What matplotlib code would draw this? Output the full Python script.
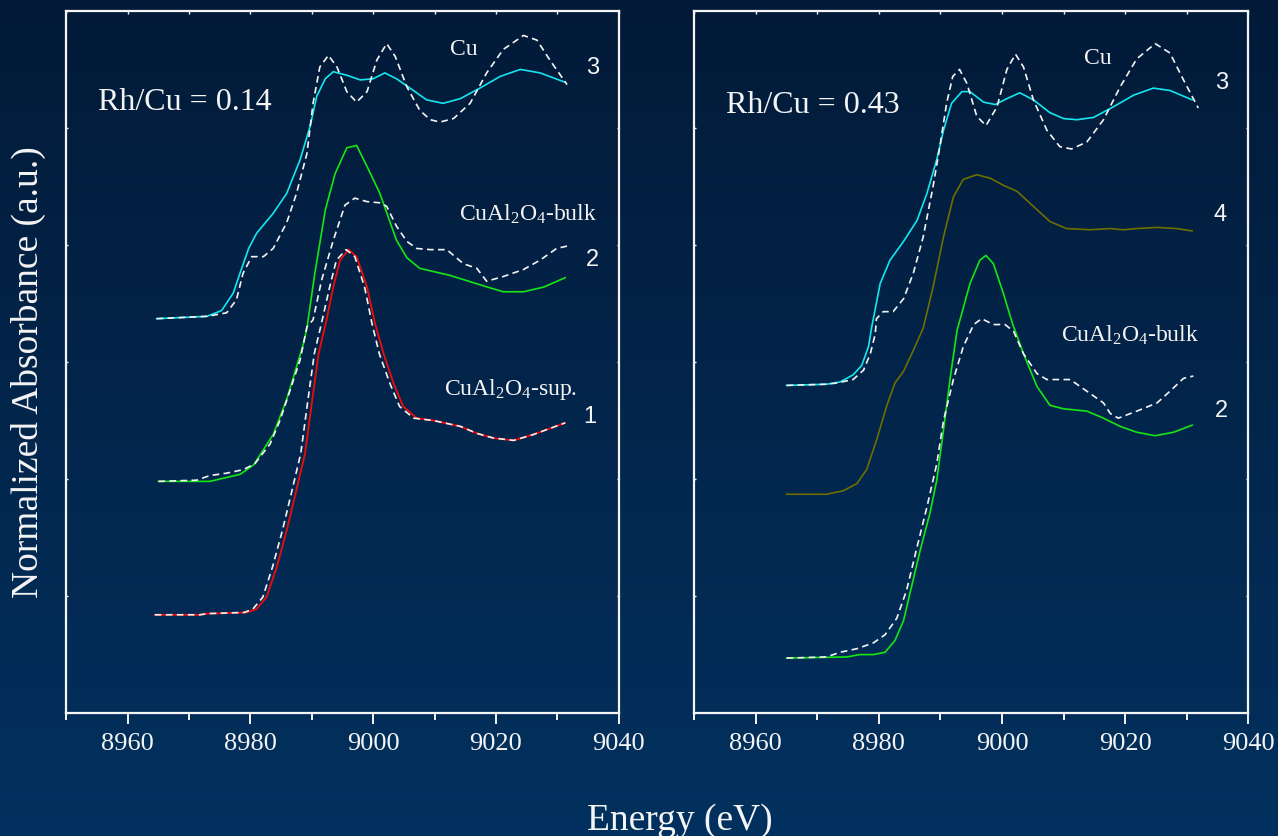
import numpy as np
import matplotlib
matplotlib.use("Agg")
import matplotlib.pyplot as plt
from matplotlib.ticker import MultipleLocator
from matplotlib.colors import LinearSegmentedColormap

plt.rcParams["font.family"] = ["Liberation Serif", "DejaVu Serif"]
plt.rcParams["mathtext.fontset"] = "custom"
plt.rcParams["mathtext.rm"] = "Liberation Serif"
plt.rcParams["mathtext.it"] = "Liberation Serif"
plt.rcParams["mathtext.default"] = "regular"

# ── Cu K-edge XANES, stacked (energy in eV, absorbance in a.u.) ───────────────

# Rh/Cu = 0.14 : sample 3 (cyan) vs Cu foil (dashed)
l3_e = [8964.7, 8972.9, 8975.3, 8977.2, 8978.3, 8979.7, 8981.0, 8983.7, 8985.9, 8988.1,
        8989.7, 8990.8, 8992.2, 8993.5, 8995.7, 8997.9, 9000.0, 9001.9, 9003.8, 9006.0,
        9008.7, 9011.4, 9014.2, 9017.4, 9020.7, 9024.0, 9027.2, 9031.3]
l3_y = [3.37, 3.39, 3.44, 3.59, 3.76, 3.97, 4.10, 4.27, 4.44, 4.73,
        5.01, 5.27, 5.42, 5.48, 5.45, 5.41, 5.42, 5.47, 5.42, 5.34,
        5.24, 5.21, 5.25, 5.34, 5.44, 5.50, 5.47, 5.39]
l_cu_e = [8964.7, 8972.9, 8976.1, 8977.7, 8978.8, 8980.2, 8982.1, 8983.7, 8985.9, 8987.5,
          8989.2, 8990.2, 8991.3, 8992.7, 8994.1, 8995.7, 8997.3, 8999.0, 9000.6, 9002.2,
          9003.6, 9005.5, 9007.6, 9009.3, 9010.9, 9013.1, 9015.8, 9018.5, 9021.2, 9024.5,
          9026.7, 9028.8, 9031.6]
l_cu_y = [3.37, 3.39, 3.42, 3.53, 3.76, 3.90, 3.90, 3.97, 4.19, 4.44,
          4.78, 5.21, 5.52, 5.62, 5.52, 5.31, 5.22, 5.31, 5.58, 5.72,
          5.61, 5.35, 5.15, 5.07, 5.05, 5.08, 5.21, 5.47, 5.67, 5.79,
          5.75, 5.58, 5.37]

# Rh/Cu = 0.14 : sample 2 (green) vs CuAl2O4 bulk (dashed)
l2_e = [8965.0, 8973.4, 8978.3, 8980.5, 8983.7, 8985.9, 8988.6, 8989.2, 8990.5, 8992.2,
        8993.8, 8995.7, 8997.3, 8999.0, 9001.1, 9003.8, 9005.5, 9007.6, 9012.5, 9017.4,
        9021.2, 9024.5, 9027.8, 9031.3]
l2_y = [1.98, 1.98, 2.04, 2.12, 2.38, 2.68, 3.15, 3.29, 3.76, 4.30,
        4.61, 4.83, 4.85, 4.67, 4.44, 4.04, 3.89, 3.80, 3.74, 3.66,
        3.60, 3.60, 3.64, 3.72]
l_bulk_e = [8965.0, 8971.2, 8973.4, 8976.1, 8978.8, 8980.7, 8983.2, 8984.8, 8986.4, 8988.1,
            8989.2, 8990.2, 8991.6, 8993.5, 8995.4, 8997.0, 8999.0, 9001.1, 9002.2, 9003.8,
            9005.5, 9007.1, 9009.3, 9012.0, 9014.7, 9016.9, 9018.5, 9021.2, 9024.5, 9027.2,
            9029.9, 9031.6]
l_bulk_y = [1.98, 1.99, 2.03, 2.05, 2.08, 2.13, 2.30, 2.50, 2.75, 3.02,
            3.30, 3.36, 3.70, 4.04, 4.34, 4.40, 4.37, 4.36, 4.33, 4.16,
            4.03, 3.97, 3.96, 3.96, 3.84, 3.80, 3.69, 3.73, 3.79, 3.87,
            3.97, 3.99]

# Rh/Cu = 0.14 : sample 1 (red) vs supported CuAl2O4 (dashed)
l1_e = [8964.4, 8971.8, 8972.9, 8979.4, 8981.0, 8982.6, 8984.3, 8985.9, 8987.5, 8988.9,
        8990.0, 8991.1, 8992.4, 8993.5, 8994.6, 8996.0, 8997.3, 8999.0, 9000.3, 9001.7,
        9003.3, 9004.9, 9007.1, 9009.8, 9014.2, 9016.9, 9019.6, 9022.9, 9026.1, 9031.3]
l1_y = [0.84, 0.84, 0.85, 0.86, 0.89, 0.99, 1.25, 1.56, 1.91, 2.22,
        2.65, 3.07, 3.36, 3.64, 3.87, 3.96, 3.90, 3.64, 3.33, 3.07,
        2.82, 2.62, 2.52, 2.50, 2.45, 2.39, 2.35, 2.33, 2.38, 2.48]
l_sup_e = [8964.4, 8971.8, 8972.9, 8979.0, 8980.4, 8982.0, 8983.6, 8985.2, 8986.8, 8988.2,
           8989.3, 8990.4, 8991.7, 8992.9, 8994.0, 8995.6, 8997.0, 8998.6, 8999.8, 9001.0,
           9002.7, 9004.3, 9006.6, 9009.8, 9014.2, 9016.9, 9019.6, 9022.9, 9026.1, 9031.3]
l_sup_y = l1_y

# Rh/Cu = 0.43 : sample 3 (cyan) vs Cu foil (dashed)
r3_e = [8965.0, 8971.5, 8973.7, 8975.8, 8977.2, 8978.3, 8978.8, 8980.2, 8981.8, 8984.0,
        8986.2, 8987.8, 8989.4, 8990.5, 8991.8, 8993.5, 8994.8, 8997.0, 8998.9, 9000.8,
        9002.9, 9005.1, 9007.8, 9010.0, 9012.2, 9014.9, 9018.1, 9021.4, 9024.6, 9027.3,
        9030.9]
r3_y = [2.80, 2.81, 2.83, 2.89, 2.97, 3.13, 3.29, 3.67, 3.87, 4.03,
        4.21, 4.44, 4.73, 4.98, 5.21, 5.31, 5.31, 5.22, 5.20, 5.25,
        5.30, 5.24, 5.13, 5.08, 5.07, 5.09, 5.18, 5.28, 5.34, 5.32,
        5.24]
r_cu_e = [8965.0, 8971.5, 8973.1, 8975.8, 8977.5, 8978.6, 8979.4, 8979.6, 8980.7, 8982.3,
          8984.0, 8985.6, 8987.2, 8988.8, 8989.9, 8991.0, 8992.0, 8993.1, 8994.3, 8995.9,
          8997.4, 8999.2, 9000.8, 9002.2, 9003.5, 9005.1, 9007.3, 9009.4, 9011.3, 9013.8,
          9016.5, 9019.2, 9021.9, 9024.9, 9027.3, 9029.5, 9031.9]
r_cu_y = [2.80, 2.81, 2.82, 2.85, 2.93, 3.07, 3.24, 3.37, 3.43, 3.43,
          3.54, 3.76, 4.07, 4.50, 4.84, 5.21, 5.44, 5.50, 5.38, 5.10,
          5.02, 5.18, 5.50, 5.63, 5.52, 5.24, 4.98, 4.84, 4.82, 4.88,
          5.07, 5.35, 5.59, 5.72, 5.64, 5.41, 5.17]

# Rh/Cu = 0.43 : sample 4 (olive)
r4_e = [8965.0, 8971.5, 8974.2, 8976.4, 8978.0, 8979.6, 8981.3, 8982.6, 8984.0, 8985.6,
        8987.2, 8988.8, 8990.5, 8992.1, 8993.7, 8995.9, 8998.1, 9000.2, 9002.4, 9005.1,
        9007.8, 9010.5, 9014.3, 9017.6, 9019.7, 9021.9, 9025.2, 9028.4, 9030.9]
r4_y = [1.87, 1.87, 1.90, 1.96, 2.08, 2.33, 2.63, 2.82, 2.92, 3.10,
        3.29, 3.64, 4.07, 4.41, 4.56, 4.60, 4.57, 4.51, 4.46, 4.33,
        4.20, 4.14, 4.13, 4.14, 4.13, 4.14, 4.15, 4.14, 4.12]

# Rh/Cu = 0.43 : sample 2 (green) vs CuAl2O4 bulk (dashed)
r2_e = [8965.0, 8974.8, 8976.9, 8979.1, 8981.0, 8982.6, 8984.0, 8985.3, 8986.7, 8988.3,
        8989.4, 8990.5, 8991.6, 8992.7, 8994.8, 8996.4, 8997.4, 8998.6, 9000.2,
        9001.7, 9003.5, 9005.7, 9007.8, 9010.0, 9013.8, 9016.5, 9019.2, 9021.9, 9024.9,
        9027.9, 9030.9]
r2_y = [0.47, 0.48, 0.50, 0.50, 0.52, 0.62, 0.79, 1.08, 1.39, 1.71,
        1.99, 2.42, 2.87, 3.27, 3.67, 3.87, 3.91, 3.84, 3.59,
        3.33, 3.07, 2.79, 2.63, 2.60, 2.58, 2.52, 2.45, 2.40, 2.37,
        2.40, 2.46]
r_bulk_e = [8965.0, 8971.5, 8973.7, 8976.4, 8979.1, 8981.0, 8982.9, 8984.5, 8986.2, 8987.8,
            8989.4, 8990.5, 8992.1, 8993.7, 8995.4, 8996.7, 8998.6, 9000.5, 9001.9, 9003.5,
            9005.7, 9007.3, 9011.1, 9013.8, 9016.5, 9017.6, 9018.9, 9021.9, 9025.2, 9027.3,
            9029.5, 9031.1]
r_bulk_y = [0.47, 0.48, 0.52, 0.55, 0.60, 0.67, 0.81, 1.05, 1.42, 1.76,
            2.13, 2.50, 2.85, 3.13, 3.32, 3.37, 3.32, 3.32, 3.26, 3.07,
            2.90, 2.85, 2.85, 2.75, 2.65, 2.56, 2.52, 2.58, 2.65, 2.75,
            2.86, 2.88]

# ── styling ───────────────────────────────────────────────────────────────────

BG_TOP, BG_BOTTOM = "#021a38", "#03315f"
CYAN, GREEN, RED, OLIVE = "#14e6f0", "#14e614", "#f00a0a", "#6e6e00"
WHITE = "#f4f4f4"
DASH = (0, (4.0, 2.6))
LW = 1.2
SERIF = ["Liberation Serif", "DejaVu Serif"]
SANS = ["Liberation Sans", "DejaVu Sans"]

fig = plt.figure(figsize=(12.78, 8.36), dpi=100)

# vertical navy gradient behind everything
bg = fig.add_axes([0, 0, 1, 1], zorder=-10)
bg.imshow(np.linspace(0, 1, 256).reshape(-1, 1), aspect="auto",
          cmap=LinearSegmentedColormap.from_list("navy", [BG_TOP, BG_BOTTOM]),
          extent=[0, 1, 0, 1], origin="upper")
bg.set_axis_off()


def style_axes(ax):
    ax.set_facecolor("none")
    ax.set_xlim(8950, 9040)
    ax.set_ylim(0, 6)
    for s in ax.spines.values():
        s.set_color(WHITE)
        s.set_linewidth(1.6)
    ax.xaxis.set_major_locator(MultipleLocator(20))
    ax.xaxis.set_minor_locator(MultipleLocator(10))
    ax.yaxis.set_major_locator(MultipleLocator(1))
    ax.tick_params(axis="x", which="major", direction="out", length=8, width=1.4,
                   colors=WHITE, labelsize=19, pad=6, top=False)
    ax.tick_params(axis="x", which="minor", direction="out", length=5, width=1.4,
                   colors=WHITE, top=False)
    ax.tick_params(axis="y", which="major", direction="in", length=1.5, width=1,
                   colors=WHITE, left=True, right=True, labelleft=False)
    # small inward marks along the top edge
    sec = ax.secondary_xaxis("top")
    sec.xaxis.set_major_locator(MultipleLocator(10))
    sec.tick_params(direction="in", length=2, width=1, colors=WHITE, labeltop=False)
    sec.spines["top"].set_visible(False)
    for lab in ax.get_xticklabels():
        lab.set_family(SERIF)


ax_l = fig.add_axes([0.052, 0.147, 0.432, 0.840])
ax_r = fig.add_axes([0.5433, 0.147, 0.4333, 0.840])

# left panel: Rh/Cu = 0.14
ax_l.plot(l_cu_e, l_cu_y, color=WHITE, lw=LW, ls=DASH, zorder=3)
ax_l.plot(l3_e, l3_y, color=CYAN, lw=LW, zorder=2)
ax_l.plot(l_bulk_e, l_bulk_y, color=WHITE, lw=LW, ls=DASH, zorder=3)
ax_l.plot(l2_e, l2_y, color=GREEN, lw=LW, zorder=2)
ax_l.plot(l1_e, l1_y, color=RED, lw=LW * 1.1, zorder=2)
ax_l.plot(l_sup_e, l_sup_y, color=WHITE, lw=LW, ls=DASH, zorder=3)

# right panel: Rh/Cu = 0.43
ax_r.plot(r_cu_e, r_cu_y, color=WHITE, lw=LW, ls=DASH, zorder=3)
ax_r.plot(r3_e, r3_y, color=CYAN, lw=LW, zorder=2)
ax_r.plot(r4_e, r4_y, color=OLIVE, lw=LW, zorder=2)
ax_r.plot(r_bulk_e, r_bulk_y, color=WHITE, lw=LW, ls=DASH, zorder=3)
ax_r.plot(r2_e, r2_y, color=GREEN, lw=LW, zorder=2)

for ax in (ax_l, ax_r):
    style_axes(ax)

txt = dict(color=WHITE, family=SERIF, va="baseline")
num = dict(color=WHITE, family=SANS, fontsize=17, ha="center", va="center")

ax_l.text(8955.1, 5.15, "Rh/Cu = 0.14", fontsize=23, ha="left", **txt)
ax_l.text(9014.7, 5.62, "Cu", fontsize=17, ha="center", **txt)
ax_l.text(9025.3, 4.21, r"CuAl$_2$O$_4$-bulk", fontsize=17, ha="center", **txt)
ax_l.text(9022.4, 2.72, r"CuAl$_2$O$_4$-sup.", fontsize=17, ha="center", **txt)
ax_l.text(9035.7, 5.51, "3", **num)
ax_l.text(9035.7, 3.87, "2", **num)
ax_l.text(9035.3, 2.53, "1", **num)

ax_r.text(8955.2, 5.13, "Rh/Cu = 0.43", fontsize=23, ha="left", **txt)
ax_r.text(9015.5, 5.55, "Cu", fontsize=17, ha="center", **txt)
ax_r.text(9020.8, 3.17, r"CuAl$_2$O$_4$-bulk", fontsize=17, ha="center", **txt)
ax_r.text(9035.7, 5.38, "3", **num)
ax_r.text(9035.4, 4.26, "4", **num)
ax_r.text(9035.6, 2.58, "2", **num)

fig.text(0.022, 0.555, "Normalized Absorbance (a.u.)", rotation=90, color=WHITE,
         family=SERIF, fontsize=27, ha="center", va="center")
fig.text(0.532, 0.007, "Energy (eV)", color=WHITE, family=SERIF, fontsize=27,
         ha="center", va="baseline")

fig.savefig("out.png", dpi=100, facecolor=BG_BOTTOM)
